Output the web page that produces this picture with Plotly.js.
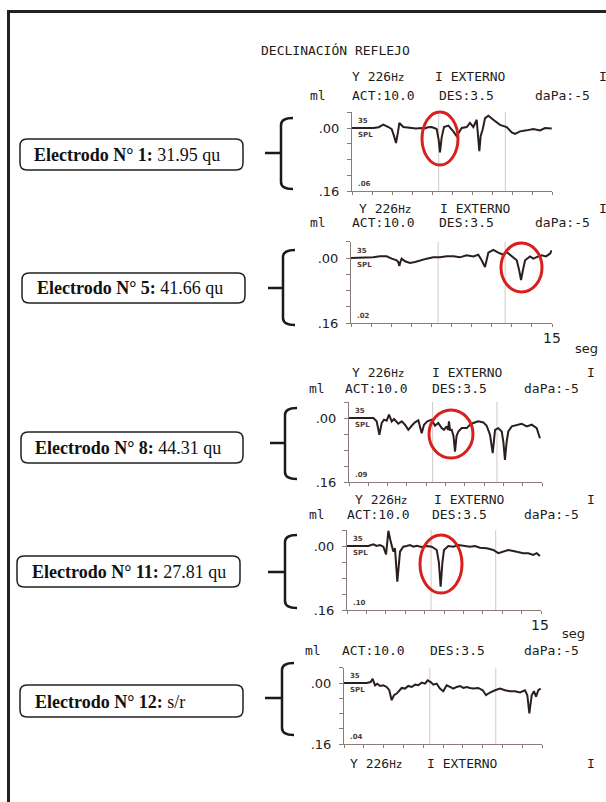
<!DOCTYPE html>
<html><head><meta charset="utf-8">
<script src="https://cdn.plot.ly/plotly-3.0.1.min.js"></script>
<style>html,body{margin:0;padding:0;background:#fff;}#chart{width:606px;height:802px;}</style>
</head><body><div id="chart"></div>
<script>
// ---------- DATA ----------
const t1=[0,1.6,2.0,2.35,2.73,2.98,3.15,3.3,3.45,3.55,3.85,4.35,4.8,5.23,5.35,5.7,5.98,6.35,6.5,6.6,6.72,6.9,7.23,7.6,7.85,8.23,8.6,8.85,9.1,9.35,9.45,9.55,9.65,9.8,9.98,10.23,10.6,11.1,11.6,11.98,12.23,12.6,13.1,13.6,14.1,14.48,14.98];
const v1=[0,0,-0.002,-0.0085,-0.0025,0.003,0.02,0.038,0.01,-0.0127,-0.0025,0,0.001,0,0.0025,-0.002,-0.0025,0.0025,0.03,0.062,0.025,-0.0025,-0.006,0.0085,0.021,0,-0.0025,-0.013,-0.0025,-0.021,0.02,0.059,0.02,0.004,-0.025,-0.031,-0.021,-0.008,-0.0025,0.011,0.015,0.0085,0.006,0.0025,0.006,0,0.001];
const t2=[0,1.66,2.16,2.66,3.04,3.41,3.52,3.61,3.7,3.78,4.03,4.4,4.78,5.15,5.65,6.14,6.64,7.14,7.64,8.13,8.63,9.13,9.5,9.75,10.0,10.25,10.62,10.99,11.37,11.62,11.99,12.37,12.55,12.69,12.83,12.99,13.36,13.61,13.98,14.23,14.55,14.85,14.98];
const v2=[0,-0.0016,-0.004,-0.004,0.0016,0.0057,0.01,0.0195,0.008,0.0016,0.008,0.012,0.0097,0.0057,0.0016,-0.0016,-0.0016,-0.004,-0.004,-0.0016,-0.0065,-0.004,-0.008,0.0057,0.022,-0.013,-0.02,-0.013,-0.008,-0.0146,-0.004,0.0057,0.03,0.054,0.03,0.0057,-0.004,0.0016,-0.004,-0.0065,-0.004,-0.0106,-0.0187];
const t3=[0,1.5,1.89,2.15,2.36,2.54,2.72,2.93,3.11,3.32,3.5,3.83,4.1,4.35,4.61,4.87,5.13,5.39,5.52,5.65,5.83,6.09,6.43,6.68,6.94,7.2,7.38,7.59,7.7,7.77,7.85,7.98,8.12,8.24,8.36,8.5,8.76,9.15,9.4,9.66,10.05,10.44,10.7,10.96,11.17,11.35,11.6,11.87,12.0,12.12,12.25,12.38,12.65,13.03,13.42,13.81,14.2,14.59,14.84];
const v3=[0,0,0,0.0084,0.042,0.0126,0.0042,0.0067,-0.0084,0.0084,0.0025,0.0143,0.0084,0.0168,0.0295,0.0194,0.011,0.0059,0.02,0.038,0.0168,0.0084,0.0042,0.0194,0.0126,0.0253,0.0295,0.021,0.03,0.0084,0.03,0.0295,0.045,0.084,0.045,0.0337,0.0253,0.0253,0.0168,0.0126,0.0084,0.011,0.0194,0.042,0.088,0.0295,0.0253,0.0337,0.06,0.105,0.06,0.0337,0.021,0.0168,0.0143,0.021,0.0168,0.0253,0.0505];
const t4=[0,1.65,2.04,2.29,2.55,2.81,3.02,3.2,3.38,3.58,3.71,3.89,4.1,4.35,4.61,4.87,5.13,5.39,5.77,6.16,6.55,6.94,7.1,7.24,7.38,7.5,7.83,8.22,8.61,8.99,9.51,9.9,10.28,10.8,11.31,11.7,12.08,12.47,12.86,13.24,13.63,14.02,14.4,14.67,14.92];
const v4=[0,0,-0.0042,0,-0.0025,0.0017,0.021,-0.038,-0.011,0.014,0.0058,0.089,0.014,0.0017,0,-0.0025,0.0017,-0.0008,0.0025,0,0.0017,0.01,0.04,0.102,0.04,0.01,0,0.0017,-0.0025,0,0.0017,0,0.0042,0.0058,0.01,0.018,0.014,0.01,0.0125,0.0158,0.018,0.018,0.0225,0.018,0.025];
const t5=[0,1.72,2.02,2.17,2.35,2.52,2.73,2.98,3.23,3.43,3.61,3.79,3.99,4.19,4.37,4.62,4.87,5.13,5.38,5.63,5.88,6.14,6.34,6.57,6.77,7.02,7.27,7.52,7.78,8.03,8.28,8.54,8.79,9.04,9.29,9.55,9.8,10.17,10.51,10.76,11.06,11.44,11.82,12.2,12.58,12.95,13.33,13.71,13.89,14.04,14.22,14.39,14.55,14.72,14.9];
const v5=[0,0,-0.0026,-0.011,0.006,0.0017,0.0078,0.006,0.0104,0.019,0.045,0.032,0.0277,0.019,0.013,0.0147,0.0078,0.0104,0.0043,0.006,-0.0009,0.0017,-0.0069,-0.0026,0.0043,0.0017,0.0147,0.0216,0.006,0.0104,0.0147,0.0104,0.0078,0.013,0.0104,0.013,0.0147,0.013,0.019,0.032,0.025,0.019,0.0147,0.019,0.0216,0.0216,0.025,0.019,0.032,0.0796,0.032,0.0216,0.036,0.019,0.0147];

const electrodeNames=['Electrodo N° 1:','Electrodo N° 5:','Electrodo N° 8:','Electrodo N° 11:','Electrodo N° 12:'];
const electrodeValues=['31.95 qu','41.66 qu','44.31 qu','27.81 qu','s/r'];
const baseLabels=['.06','.02','.09','.10','.04'];
const headerTitle='DECLINACIÓN REFLEJO';
const rowA=['Y 226<span style="font-size:11px">Hz</span>','I EXTERNO','I'];
const rowB=['ml','ACT:10.0','DES:3.5','daPa:-5'];
const yTickVals=[-0.04,0,0.04,0.08,0.12,0.16];
const yTickText=['','.00','','','','.16'];
const xTickVals=[0,1.5,3,4.5,6,7.5,9,10.5,12,13.5,15];
const gridTimes=[6.5,11.5];
const endLabel='15', unitLabel='seg', refTop='35', refBottom='SPL';

// ---------- LAYOUT ----------
const W=606,H=802;
const PX=v=>v/W, PY=v=>1-v/H;
const series=[[t1,v1],[t2,v2],[t3,v3],[t4,v4],[t5,v5]];
const panels=[
 {x0:352,x1:552,top:112.25,bot:191},
 {x0:351,x1:552,top:241.75,bot:323},
 {x0:349,x1:542,top:402,bot:482},
 {x0:347,x1:541,top:530,bot:610},
 {x0:344,x1:542,top:667.75,bot:744}
];
const axisCol='#8a7d79', traceCol='#2a1f1c';
const mono='DejaVu Sans Mono', txtCol='#1c1c1c';

const data=[], layout={width:W,height:H,margin:{l:0,r:0,t:0,b:0},showlegend:false,
  paper_bgcolor:'#fff',plot_bgcolor:'rgba(0,0,0,0)',shapes:[],annotations:[]};

panels.forEach((p,i)=>{
  const n=i+1, xa='xaxis'+n, ya='yaxis'+n;
  data.push({x:series[i][0],y:series[i][1],xaxis:'x'+n,yaxis:'y'+n,type:'scatter',mode:'lines',
    line:{color:traceCol,width:2,shape:'linear'},hoverinfo:'skip'});
  layout[xa]={domain:[PX(p.x0),PX(p.x1)],range:[0,15],anchor:'y'+n,showgrid:false,zeroline:false,
    showline:true,linecolor:axisCol,linewidth:1,ticks:'outside',ticklen:3,tickcolor:axisCol,
    tickvals:xTickVals,showticklabels:false,fixedrange:true};
  layout[ya]={domain:[PY(p.bot),PY(p.top)],range:[0.16,-0.04],anchor:'x'+n,showgrid:false,zeroline:false,
    showline:true,linecolor:axisCol,linewidth:1,ticks:'outside',ticklen:4,tickcolor:axisCol,
    tickvals:yTickVals,ticktext:yTickText,ticklabelstandoff:5,
    tickfont:{family:'DejaVu Sans',size:13,color:'#222'},fixedrange:true};
  gridTimes.forEach(g=>layout.shapes.push({type:'line',xref:'x'+n,yref:'y'+n+' domain',x0:g,x1:g,y0:0,y1:1,
    line:{color:'#cfcac8',width:1},layer:'below'}));
  const sm={family:'DejaVu Sans',size:7,color:'#4a3d3a'};
  layout.annotations.push({xref:'x'+n,yref:'y'+n,x:0,y:0,xanchor:'left',yanchor:'bottom',xshift:4,yshift:1,
    text:'<b>'+refTop+'</b>',showarrow:false,font:sm});
  layout.annotations.push({xref:'x'+n,yref:'y'+n,x:0,y:0,xanchor:'left',yanchor:'top',xshift:4,yshift:-1,
    text:'<b>'+refBottom+'</b>',showarrow:false,font:sm});
  layout.annotations.push({xref:'x'+n,yref:'y'+n,x:0,y:0.16,xanchor:'left',yanchor:'bottom',xshift:4,yshift:1,
    text:'<b>'+baseLabels[i]+'</b>',showarrow:false,font:sm});
});

function txt(s,x,y,opts){
  layout.annotations.push(Object.assign({xref:'paper',yref:'paper',x:PX(x),y:PY(y),xanchor:'left',yanchor:'middle',
    text:s,showarrow:false,font:{family:mono,size:13,color:txtCol}},opts||{}));
}
txt(headerTitle,259,51);
const headA=[[77,350,433,597],[208,357,438,597],[373,350,430,585],[499,353,432,585],[763,348,425,585]];
headA.forEach(h=>{txt(rowA[0],h[1],h[0]);txt(rowA[1],h[2],h[0]);txt(rowA[2],h[3],h[0]);});
const headB=[[95,308,350,437,533],[223,308,350,437,533],[388,307,343,430,522],[514,307,345,430,522],[650,303,340,428,522]];
headB.forEach(h=>{for(let k=0;k<4;k++) txt(rowB[k],h[k+1],h[0]);});
txt(endLabel,552,338,{xanchor:'center',font:{family:'DejaVu Sans',size:14,color:txtCol}});
txt(unitLabel,573,348,{font:{family:'DejaVu Sans',size:13,color:txtCol}});
txt(endLabel,540,625,{xanchor:'center',font:{family:'DejaVu Sans',size:14,color:txtCol}});
txt(unitLabel,560,633,{font:{family:'DejaVu Sans',size:13,color:txtCol}});

const boxes=[[20,139,243,170,32,155],[22,273,245,303,35,288],[21,432,243,463,33,447.5],[17,556,240,587,30,572],[20,685,243,717,33,701.5]];
function rr(x0,y0,x1,y1,r){
  const X=v=>PX(v).toFixed(5),Y=v=>PY(v).toFixed(5);
  return `M${X(x0+r)},${Y(y0)} L${X(x1-r)},${Y(y0)} Q${X(x1)},${Y(y0)} ${X(x1)},${Y(y0+r)} L${X(x1)},${Y(y1-r)} Q${X(x1)},${Y(y1)} ${X(x1-r)},${Y(y1)} L${X(x0+r)},${Y(y1)} Q${X(x0)},${Y(y1)} ${X(x0)},${Y(y1-r)} L${X(x0)},${Y(y0+r)} Q${X(x0)},${Y(y0)} ${X(x0+r)},${Y(y0)} Z`;
}
boxes.forEach((b,i)=>{
  layout.shapes.push({type:'path',xref:'paper',yref:'paper',path:rr(b[0],b[1],b[2],b[3],7),line:{color:'#222',width:1.5}});
  txt('<b>'+electrodeNames[i]+'</b> '+electrodeValues[i],b[4],b[5],{font:{family:'Liberation Serif',size:18,color:'#111'}});
});
const braces=[[281,118,189,153,265],[283,250,325,288,268],[285,408,479,443,270],[285,535,608,572,268],[282,663,735,698,265]];
braces.forEach(b=>{
  const X=v=>PX(v).toFixed(5),Y=v=>PY(v).toFixed(5);
  const [x,t,bt,m,tx]=b, hk=x+12, r=7;
  const p=`M${X(hk)},${Y(t)} Q${X(x)},${Y(t)} ${X(x)},${Y(t+r)} L${X(x)},${Y(bt-r)} Q${X(x)},${Y(bt)} ${X(hk)},${Y(bt)} M${X(tx)},${Y(m)} L${X(x)},${Y(m)}`;
  layout.shapes.push({type:'path',xref:'paper',yref:'paper',path:p,line:{color:'#1a1a1a',width:2.5}});
});
const rings=[[422,112,458,165],[501,243,542,292],[429,410,473,458],[420,535,462,593]];
rings.forEach(e=>layout.shapes.push({type:'circle',xref:'paper',yref:'paper',x0:PX(e[0]),x1:PX(e[2]),y0:PY(e[3]),y1:PY(e[1]),
  line:{color:'#d8201f',width:3},layer:'above'}));
layout.shapes.push({type:'path',xref:'paper',yref:'paper',
  path:`M${PX(8.5)},${PY(802)} L${PX(8.5)},${PY(11.5)} L${PX(606)},${PY(11.5)}`,line:{color:'#222',width:3}});

Plotly.newPlot('chart',data,layout,{staticPlot:true,displayModeBar:false});
</script></body></html>
